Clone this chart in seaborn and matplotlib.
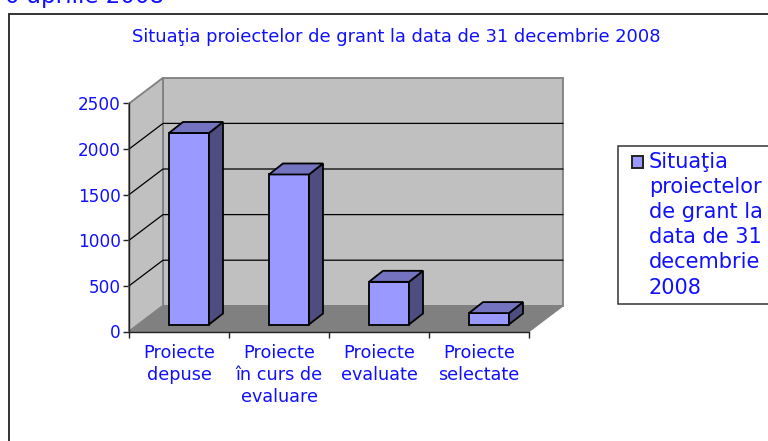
# Situatia proiectelor de grant - fake 3D column chart on seaborn bars
import matplotlib
matplotlib.use('Agg')
import matplotlib.pyplot as plt
import seaborn as sns
import pandas as pd
from matplotlib.patches import Polygon, Rectangle

categories = ['Proiecte\ndepuse', 'Proiecte\nîn curs de\nevaluare', 'Proiecte\nevaluate', 'Proiecte\nselectate']
values = [2100, 1645, 468, 125]
y_ticks = [0, 500, 1000, 1500, 2000, 2500]
title = 'Situaţia proiectelor de grant la data de 31 decembrie 2008'
legend_label = 'Situaţia\nproiectelor\nde grant la\ndata de 31\ndecembrie\n2008'
cut_heading = '0 aprilie 2008'

W, H = 768, 441
BLUE = '#1010ff'
FACE = '#9999ff'
TOP = '#7373bf'
SIDE = '#4d4d80'
WALL = '#c0c0c0'
FLOOR = '#808080'

sns.set_theme(style='white')
plt.rcParams['font.family'] = ['DejaVu Sans']

fig = plt.figure(figsize=(W / 100, H / 100), dpi=100)
ax = fig.add_axes([129 / W, 1 - 331.5 / H, 400 / W, 228 / H])

df = pd.DataFrame({'cat': categories, 'val': values})
sns.barplot(data=df, x='cat', y='val', color=FACE, width=0.4, saturation=1,
            edgecolor='black', linewidth=1.3, zorder=5, ax=ax)
ax.set_xlim(-0.5, 3.5)
ax.set_ylim(0, 2500)

# depth of the box and of the columns, in data units (100 px = 1 category)
per_px = 2500 / 228
box_dx, box_dy = 0.34, 25.7 * per_px
bar_dx, bar_dy = 0.14, 11 * per_px
off_x, off_y = 0.10, 7 * per_px

x0, x1 = -0.5, 3.5
top = 2500
common = dict(clip_on=False, edgecolor='#808080', linewidth=1.3, zorder=1)
ax.add_patch(Polygon([(x0 + box_dx, box_dy), (x1 + box_dx, box_dy), (x1 + box_dx, top + box_dy),
                      (x0 + box_dx, top + box_dy)], facecolor=WALL, **common))
ax.add_patch(Polygon([(x0, 0), (x0 + box_dx, box_dy), (x0 + box_dx, top + box_dy), (x0, top)],
                     facecolor=WALL, **common))
ax.add_patch(Polygon([(x0, 0), (x1, 0), (x1 + box_dx, box_dy), (x0 + box_dx, box_dy)],
                     facecolor=FLOOR, clip_on=False, edgecolor=FLOOR, linewidth=1, zorder=2))

# gridlines run along the side wall and then the back wall
for t in y_ticks[1:-1]:
    ax.plot([x0, x0 + box_dx, x1 + box_dx], [t, t + box_dy, t + box_dy], color='black',
            lw=0.9, clip_on=False, zorder=3)

# move the seaborn bars into the box and add the side and top faces
for bar in list(ax.patches):
    if isinstance(bar, Polygon):
        continue
    bar.set_x(bar.get_x() + off_x)
    bar.set_y(off_y)
    l, r = bar.get_x(), bar.get_x() + bar.get_width()
    b, t = off_y, off_y + bar.get_height()
    ax.add_patch(Polygon([(r, b), (r + bar_dx, b + bar_dy), (r + bar_dx, t + bar_dy), (r, t)],
                         facecolor=SIDE, edgecolor='black', linewidth=1.3, clip_on=False, zorder=5))
    ax.add_patch(Polygon([(l, t), (l + bar_dx, t + bar_dy), (r + bar_dx, t + bar_dy), (r, t)],
                         facecolor=TOP, edgecolor='black', linewidth=1.3, clip_on=False, zorder=5))
    bar.set_clip_on(False)

sns.despine(ax=ax, top=True, right=True)
for s in ['left', 'bottom']:
    ax.spines[s].set_color('#222222')
    ax.spines[s].set_linewidth(1)
    ax.spines[s].set_zorder(6)
ax.patch.set_alpha(0)
ax.set_xlabel('')
ax.set_ylabel('')
ax.set_yticks(y_ticks)
ax.set_yticklabels([str(v) for v in y_ticks], color=BLUE, fontsize=12.2)
ax.set_xticks([-0.5, 0.5, 1.5, 2.5, 3.5], minor=False)
ax.set_xticklabels([''] * 5)
ax.tick_params(axis='both', length=4, width=1, color='#222222', left=True, bottom=True, pad=2)
for i, c in enumerate(categories):
    ax.text(i, -12.5 * per_px, c, ha='center', va='top', color=BLUE, fontsize=12.7, linespacing=1.3, clip_on=False)

# chart frame, cut by the picture edges like in the original
fig.add_artist(Rectangle((8.5 / W, -0.05), (W + 20) / W, 1 - 14 / H + 0.05, fill=False, edgecolor='#333333',
                         linewidth=1.4, transform=fig.transFigure, zorder=0))
fig.text(396 / W, 1 - 37 / H, title, ha='center', va='center', color=BLUE, fontsize=12.85)
fig.text(5 / W, 1 - 3 / H, cut_heading, ha='left', va='baseline', color=BLUE, fontsize=16.6)

# legend box, also running off the right edge
fig.add_artist(Rectangle((617.5 / W, 1 - 303.5 / H), 200 / W, 157.5 / H, facecolor='white', edgecolor='#333333',
                         linewidth=1.1, transform=fig.transFigure, zorder=0))
fig.add_artist(Rectangle((631.5 / W, 1 - 167.5 / H), 11.5 / W, 11.5 / H, facecolor=FACE, edgecolor='#222222',
                         linewidth=1.4, transform=fig.transFigure))
fig.text(649 / W, 1 - 152 / H, legend_label, ha='left', va='top', color=BLUE, fontsize=15, linespacing=1.32)

plt.savefig('out.png', dpi=100)
plt.close()
